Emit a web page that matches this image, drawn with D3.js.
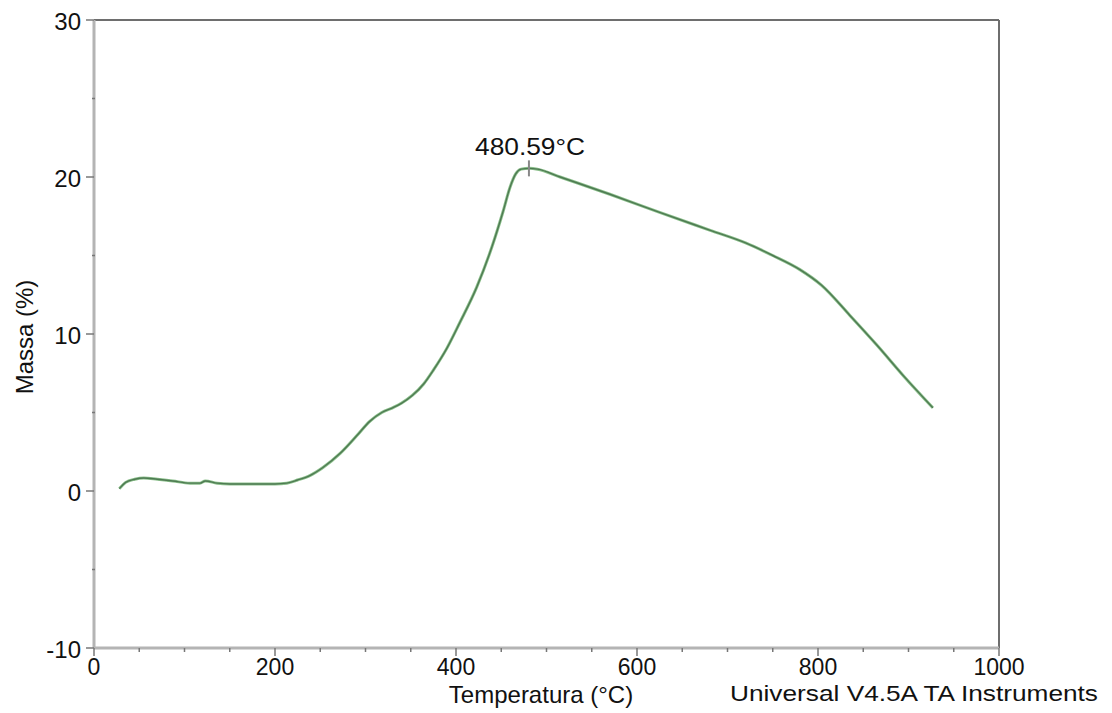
<!DOCTYPE html>
<html>
<head>
<meta charset="utf-8">
<script src="https://cdn.jsdelivr.net/npm/d3@7"></script>
<style>
  body { margin: 0; background: #fff; }
  text { font-family: "Liberation Sans", Arial, sans-serif; fill: #111; }
</style>
</head>
<body>
<div id="chart"></div>
<script>
const width = 1112;
const height = 713;

// TGA curve
const temperature = [28, 35, 45, 55, 70, 87, 106, 117, 123, 136, 150, 175, 200, 213, 225, 239, 253, 272, 290,
    305, 318, 330, 340, 352, 364, 375, 390, 404, 423, 440, 452, 460, 466, 472, 481, 490, 515,
    570, 625, 681, 720, 750, 780, 804, 835, 865, 895, 927];
const mass = [0.15, 0.55, 0.75, 0.83, 0.75, 0.64, 0.5, 0.5, 0.64, 0.5, 0.45, 0.45, 0.45, 0.5, 0.7, 1.0, 1.5, 2.4, 3.5,
    4.45, 5.0, 5.3, 5.6, 6.1, 6.8, 7.7, 9.1, 10.7, 13.0, 15.6, 17.8, 19.4, 20.2, 20.5, 20.55, 20.5, 20.0,
    18.9, 17.75, 16.6, 15.8, 15.0, 14.1, 13.1, 11.2, 9.3, 7.3, 5.3];
const xTicks = [0, 200, 400, 600, 800, 1000];
const yTicks = [-10, 0, 10, 20, 30];
const peakT = 480.59;
const peakM = 20.55;
const peakLabel = "480.59°C";

const data = temperature.map((t, i) => ({ t, m: mass[i] }));

const x = d3.scaleLinear().domain([0, 1000]).range([94, 999]);
const y = d3.scaleLinear().domain([-10, 30]).range([648, 20]);

const svg = d3.select("#chart").append("svg")
    .attr("width", width)
    .attr("height", height);

// frame: top and right borders darker
svg.append("line")
    .attr("x1", x(0)).attr("x2", x(1000))
    .attr("y1", y(30)).attr("y2", y(30))
    .style("stroke", "#6e6e6e").style("stroke-width", 2);
svg.append("line")
    .attr("x1", x(1000)).attr("x2", x(1000))
    .attr("y1", y(30)).attr("y2", y(-10))
    .style("stroke", "#6e6e6e").style("stroke-width", 2);

// y axis
const yAxis = svg.append("g");
yAxis.append("line")
    .attr("x1", x(0)).attr("x2", x(0))
    .attr("y1", y(30)).attr("y2", y(-10))
    .style("stroke", "#b4b4b4").style("stroke-width", 3);
yAxis.selectAll(".minor")
    .data(d3.range(-5, 30, 10))
    .enter().append("line")
    .attr("x1", x(0) - 2).attr("x2", x(0) + 1)
    .attr("y1", d => y(d)).attr("y2", d => y(d))
    .style("stroke", "#777").style("stroke-width", 1.5);
yAxis.selectAll(".major")
    .data(yTicks)
    .enter().append("line")
    .attr("x1", x(0) - 8).attr("x2", x(0))
    .attr("y1", d => y(d)).attr("y2", d => y(d))
    .style("stroke", "#777").style("stroke-width", 1.5);
yAxis.selectAll(".lbl")
    .data(yTicks)
    .enter().append("text")
    .attr("x", 81)
    .attr("y", d => y(d))
    .attr("dy", "0.4em")
    .attr("text-anchor", "end")
    .style("font-size", "24px")
    .text(d => d);

// x axis
const xAxis = svg.append("g");
xAxis.append("line")
    .attr("x1", x(0)).attr("x2", x(1000))
    .attr("y1", y(-10)).attr("y2", y(-10))
    .style("stroke", "#b4b4b4").style("stroke-width", 3);
xAxis.selectAll(".minor")
    .data(d3.range(50, 1000, 50).filter(d => d % 200 !== 0))
    .enter().append("line")
    .attr("x1", d => x(d)).attr("x2", d => x(d))
    .attr("y1", y(-10)).attr("y2", y(-10) + 4)
    .style("stroke", "#777").style("stroke-width", 1.5);
xAxis.selectAll(".major")
    .data(xTicks)
    .enter().append("line")
    .attr("x1", d => x(d)).attr("x2", d => x(d))
    .attr("y1", y(-10)).attr("y2", y(-10) + 8)
    .style("stroke", "#777").style("stroke-width", 1.5);
xAxis.selectAll(".lbl")
    .data(xTicks)
    .enter().append("text")
    .attr("x", d => x(d))
    .attr("y", 675)
    .attr("text-anchor", "middle")
    .style("font-size", "23px")
    .text(d => d);

// axis titles
svg.append("text")
    .attr("x", 541).attr("y", 703)
    .attr("text-anchor", "middle")
    .style("font-size", "24px")
    .text("Temperatura (°C)");
svg.append("text")
    .attr("x", 730).attr("y", 701)
    .attr("text-anchor", "start")
    .attr("textLength", 368)
    .attr("lengthAdjust", "spacingAndGlyphs")
    .style("font-size", "22px")
    .text("Universal V4.5A TA Instruments");
svg.append("text")
    .attr("transform", `translate(33,337) rotate(-90)`)
    .attr("text-anchor", "middle")
    .style("font-size", "24px")
    .text("Massa (%)");

// curve
const line = d3.line()
    .x(d => x(d.t))
    .y(d => y(d.m))
    .curve(d3.curveMonotoneX);

svg.append("path")
    .datum(data)
    .attr("d", line)
    .style("fill", "none")
    .style("stroke", "#8cc08c")
    .style("stroke-width", 3);
svg.append("path")
    .datum(data)
    .attr("d", line)
    .style("fill", "none")
    .style("stroke", "#4e7a52")
    .style("stroke-width", 1.4);

// peak marker
svg.append("line")
    .attr("x1", x(peakT)).attr("x2", x(peakT))
    .attr("y1", y(peakM) - 8).attr("y2", y(peakM) + 8)
    .style("stroke", "#888").style("stroke-width", 2);
svg.append("text")
    .attr("x", 530)
    .attr("y", 155)
    .attr("text-anchor", "middle")
    .attr("textLength", 110)
    .attr("lengthAdjust", "spacingAndGlyphs")
    .style("font-size", "24px")
    .text(peakLabel);
</script>
</body>
</html>
